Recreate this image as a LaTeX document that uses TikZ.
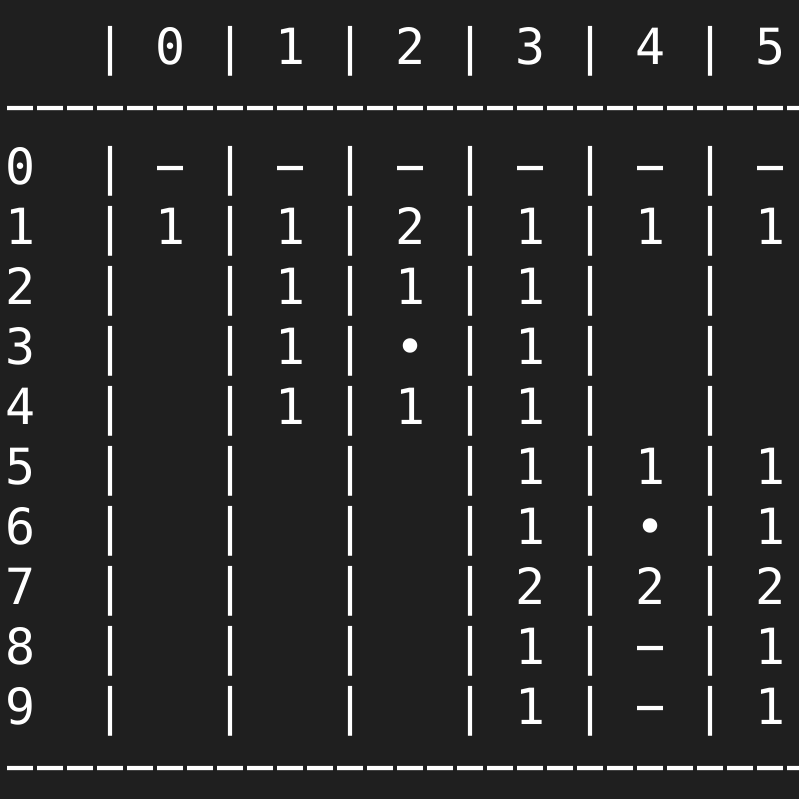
\documentclass[tikz,border=0pt]{standalone}
\usepackage{fontspec}
\usepackage{graphicx}
\newfontfamily\gridfont{DejaVu Sans Mono}
\definecolor{bg}{HTML}{1F1F1F}
\newcommand\gdash{\makebox[0.602em][c]{\raisebox{-0.8pt}{\scalebox{0.867}[1.24]{—}}}}
\newcommand\gsep{\gdash\gdash\gdash\gdash\gdash\gdash\gdash\gdash\gdash\gdash\gdash\gdash\gdash\gdash\gdash\gdash\gdash\gdash\gdash\gdash\gdash\gdash\gdash\gdash\gdash\gdash\gdash}
\begin{document}
\begin{tikzpicture}[x=1pt,y=1pt,
  gridline/.style={anchor=base west,inner sep=0pt,outer sep=0pt,text=white,
    font=\gridfont\fontsize{49.85}{60}\selectfont}]
\fill[bg] (0,0) rectangle (799,799);
\useasboundingbox (0,0) rectangle (799,799);
\node[gridline] (h)  at (5.3,799-65)  {~~~|~0~|~1~|~2~|~3~|~4~|~5};
\node[gridline] (s1) at (5.3,799-125) {\gsep};
\node[gridline] (r0) at (5.3,799-185) {0~~|~\gdash~|~\gdash~|~\gdash~|~\gdash~|~\gdash~|~\gdash};
\node[gridline] (r1) at (5.3,799-245) {1~~|~1~|~1~|~2~|~1~|~1~|~1};
\node[gridline] (r2) at (5.3,799-305) {2~~|~~~|~1~|~1~|~1~|~~~|};
\node[gridline] (r3) at (5.3,799-365) {3~~|~~~|~1~|~•~|~1~|~~~|};
\node[gridline] (r4) at (5.3,799-425) {4~~|~~~|~1~|~1~|~1~|~~~|};
\node[gridline] (r5) at (5.3,799-485) {5~~|~~~|~~~|~~~|~1~|~1~|~1};
\node[gridline] (r6) at (5.3,799-545) {6~~|~~~|~~~|~~~|~1~|~•~|~1};
\node[gridline] (r7) at (5.3,799-605) {7~~|~~~|~~~|~~~|~2~|~2~|~2};
\node[gridline] (r8) at (5.3,799-665) {8~~|~~~|~~~|~~~|~1~|~\gdash~|~1};
\node[gridline] (r9) at (5.3,799-725) {9~~|~~~|~~~|~~~|~1~|~\gdash~|~1};
\node[gridline] (s2) at (5.3,799-785) {\gsep};
\end{tikzpicture}
\end{document}
